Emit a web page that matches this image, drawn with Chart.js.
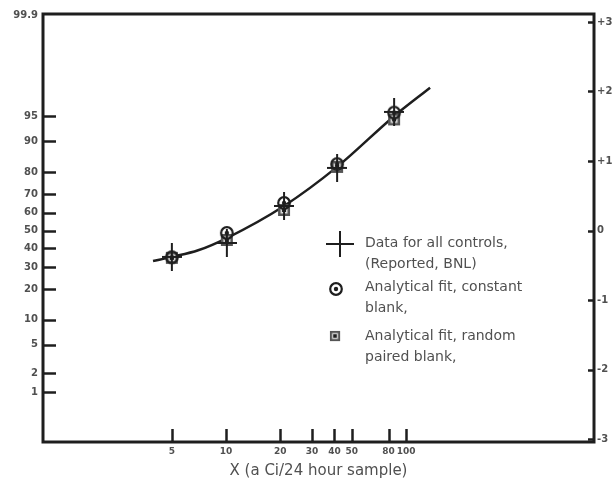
<!DOCTYPE html>
<html>
<head>
<meta charset="utf-8">
<script src="https://cdn.jsdelivr.net/npm/chart.js@4"></script>
<style>
  html, body { margin: 0; padding: 0; background: #fff; }
  #wrap { width: 615px; height: 482px; position: relative; }
</style>
</head>
<body>
<div id="wrap"><canvas id="chart"></canvas></div>
<script>
// Values (x in a Ci/24 h, y in cumulative percent)
const xTicks = [5, 10, 20, 30, 40, 50, 80, 100];
const leftPct = [1, 2, 5, 10, 20, 30, 40, 50, 60, 70, 80, 90, 95, 99.9];
const rightZ = [-3, -2, -1, 0, 1, 2, 3];

const controlsX = [5.0, 10.1, 21.0, 41.4, 85.8];
const controlsY = [35.2, 42.9, 63.8, 81.6, 95.6];

const constX = [5.0, 10.1, 21.0, 41.4, 85.8];
const constY = [35.0, 48.6, 65.4, 83.0, 95.5];

const randomX = [5.0, 10.1, 21.0, 41.4, 85.8];
const randomY = [34.7, 44.6, 61.6, 82.0, 94.5];

const curveX = [3.93, 5.0, 7.0, 10.1, 21.0, 41.4, 85.8, 136];
const curveY = [33.0, 35.2, 38.8, 45.7, 63.8, 82.0, 95.0, 98.0];

const ink = '#1e1e1e';
const textCol = '#505050';
const fontFam = '"DejaVu Sans", sans-serif';

// percent -> standard normal deviate (probability paper)
function probit(pct) {
  const p = pct / 100;
  const a = [-39.6968302866538, 220.946098424521, -275.928510446969, 138.357751867269, -30.6647980661472, 2.50662827745924];
  const b = [-54.4760987982241, 161.585836858041, -155.698979859887, 66.8013118877197, -13.2806815528857];
  const c = [-0.00778489400243029, -0.322396458041136, -2.40075827716184, -2.54973253934373, 4.37466414146497, 2.93816398269878];
  const d = [0.00778469570904146, 0.32246712907004, 2.445134137143, 3.75440866190742];
  const pl = 0.02425;
  let q, r;
  if (p < pl) {
    q = Math.sqrt(-2 * Math.log(p));
    return (((((c[0]*q+c[1])*q+c[2])*q+c[3])*q+c[4])*q+c[5]) / ((((d[0]*q+d[1])*q+d[2])*q+d[3])*q+1);
  }
  if (p > 1 - pl) {
    q = Math.sqrt(-2 * Math.log(1 - p));
    return -(((((c[0]*q+c[1])*q+c[2])*q+c[3])*q+c[4])*q+c[5]) / ((((d[0]*q+d[1])*q+d[2])*q+d[3])*q+1);
  }
  q = p - 0.5; r = q * q;
  return (((((a[0]*r+a[1])*r+a[2])*r+a[3])*r+a[4])*r+a[5])*q / (((((b[0]*r+b[1])*r+b[2])*r+b[3])*r+b[4])*r+1);
}

function toPoints(xs, ys) {
  return xs.map((x, i) => ({ x: x, y: probit(ys[i]) }));
}

// Marker images
function makeCross(w, h) {
  const c = document.createElement('canvas');
  c.width = w; c.height = h;
  const g = c.getContext('2d');
  g.strokeStyle = ink; g.lineWidth = 2;
  g.beginPath();
  g.moveTo(w / 2, 0); g.lineTo(w / 2, h);
  g.moveTo(0, h / 2); g.lineTo(w, h / 2);
  g.stroke();
  return c;
}
function makeCircleDot() {
  const c = document.createElement('canvas');
  c.width = 16; c.height = 16;
  const g = c.getContext('2d');
  g.strokeStyle = ink; g.fillStyle = ink; g.lineWidth = 2.2;
  g.beginPath(); g.arc(8, 8, 5.8, 0, Math.PI * 2); g.stroke();
  g.beginPath(); g.arc(8, 8, 2.2, 0, Math.PI * 2); g.fill();
  return c;
}
function makeSquareDot() {
  const c = document.createElement('canvas');
  c.width = 14; c.height = 14;
  const g = c.getContext('2d');
  g.fillStyle = '#555';
  g.fillRect(1, 1, 12, 12);
  g.fillStyle = '#ddd';
  g.fillRect(3.5, 3.5, 7, 7);
  g.fillStyle = ink;
  g.fillRect(5, 5, 4, 4);
  return c;
}
const crossImg = makeCross(20, 28);
const circleImg = makeCircleDot();
const squareImg = makeSquareDot();

// inward tick marks, frame and legend
const decorPlugin = {
  id: 'decor',
  afterDraw(chart) {
    const g = chart.ctx;
    const a = chart.chartArea;
    const sx = chart.scales.x, sy = chart.scales.y, sr = chart.scales.yR;
    g.save();
    g.strokeStyle = ink;
    g.lineWidth = 2.5;
    sx.ticks.forEach(t => {
      const px = Math.round(sx.getPixelForValue(t.value)) + 0.5;
      g.beginPath(); g.moveTo(px, a.bottom); g.lineTo(px, a.bottom - 13); g.stroke();
    });
    sy.ticks.forEach(t => {
      const py = Math.round(sy.getPixelForValue(t.value)) + 0.5;
      if (py < a.top + 4) return;
      g.beginPath(); g.moveTo(a.left, py); g.lineTo(a.left + 13, py); g.stroke();
    });
    sr.ticks.forEach(t => {
      const py = Math.round(sr.getPixelForValue(t.value)) + 0.5;
      g.beginPath(); g.moveTo(a.right, py); g.lineTo(a.right - 6, py); g.stroke();
    });
    g.lineWidth = 3;
    g.strokeRect(a.left, a.top, a.right - a.left, a.bottom - a.top);

    // legend
    g.lineWidth = 2;
    g.beginPath();
    g.moveTo(326, 244); g.lineTo(354, 244);
    g.moveTo(340, 231); g.lineTo(340, 257);
    g.stroke();
    g.drawImage(circleImg, 336 - 8, 289 - 8);
    g.drawImage(squareImg, 335 - 6, 337 - 7, 12, 12);
    g.fillStyle = textCol;
    g.font = '14px ' + fontFam;
    g.textBaseline = 'middle';
    const lines = [
      ['Data for all controls,', 243], ['(Reported, BNL)', 264],
      ['Analytical fit, constant', 287], ['blank,', 308],
      ['Analytical fit, random', 336], ['paired blank,', 357]
    ];
    lines.forEach(l => g.fillText(l[0], 365, l[1]));
    g.restore();
  }
};

const zMin = -3.043, zMax = 3.115;

new Chart(document.getElementById('chart'), {
  type: 'scatter',
  data: {
    datasets: [
      {
        label: 'Data for all controls, (Reported, BNL)',
        data: toPoints(controlsX, controlsY),
        pointStyle: crossImg,
        pointRadius: 10,
        yAxisID: 'y'
      },
      {
        label: 'Analytical fit, constant blank,',
        data: toPoints(constX, constY),
        pointStyle: circleImg,
        pointRadius: 8,
        yAxisID: 'y'
      },
      {
        label: 'Analytical fit, random paired blank,',
        data: toPoints(randomX, randomY),
        pointStyle: squareImg,
        pointRadius: 7,
        yAxisID: 'y'
      },
      {
        label: 'fit',
        type: 'line',
        data: toPoints(curveX, curveY),
        borderColor: ink,
        borderWidth: 2.5,
        pointRadius: 0,
        cubicInterpolationMode: 'monotone',
        fill: false,
        yAxisID: 'y'
      }
    ]
  },
  options: {
    responsive: true,
    maintainAspectRatio: false,
    animation: false,
    layout: { padding: { top: 14, left: 0, right: 0, bottom: 0 } },
    plugins: {
      legend: { display: false },
      tooltip: { enabled: false }
    },
    scales: {
      x: {
        type: 'logarithmic',
        position: 'bottom',
        min: 0.962,
        max: 1107,
        grid: { display: false, drawTicks: false },
        border: { display: false },
        afterBuildTicks: s => { s.ticks = xTicks.map(v => ({ value: v })); },
        afterFit: s => { s.height = 40; },
        ticks: {
          autoSkip: false,
          maxRotation: 0,
          padding: 4,
          color: textCol,
          font: { family: fontFam, size: 9, weight: 'bold' },
          callback: (v, i) => String(xTicks[i])
        },
        title: {
          display: true,
          text: 'X (a Ci/24 hour sample)',
          color: textCol,
          font: { family: fontFam, size: 15 },
          padding: { top: 0, bottom: 2 }
        }
      },
      y: {
        type: 'linear',
        position: 'left',
        min: zMin,
        max: zMax,
        grid: { display: false, drawTicks: false },
        border: { display: false },
        afterBuildTicks: s => { s.ticks = leftPct.map(v => ({ value: probit(v) })); },
        afterFit: s => { s.width = 43; },
        ticks: {
          autoSkip: false,
          padding: 5,
          color: textCol,
          font: { family: fontFam, size: 10, weight: 'bold' },
          callback: (v, i) => String(leftPct[i])
        }
      },
      yR: {
        type: 'linear',
        position: 'right',
        min: zMin,
        max: zMax,
        grid: { display: false, drawTicks: false },
        border: { display: false },
        afterBuildTicks: s => { s.ticks = rightZ.map(v => ({ value: v })); },
        afterFit: s => { s.width = 21; },
        ticks: {
          autoSkip: false,
          padding: 3,
          color: textCol,
          font: { family: fontFam, size: 10, weight: 'bold' },
          callback: (v, i) => (rightZ[i] > 0 ? '+' : '') + rightZ[i]
        }
      }
    }
  },
  plugins: [decorPlugin]
});
</script>
</body>
</html>
